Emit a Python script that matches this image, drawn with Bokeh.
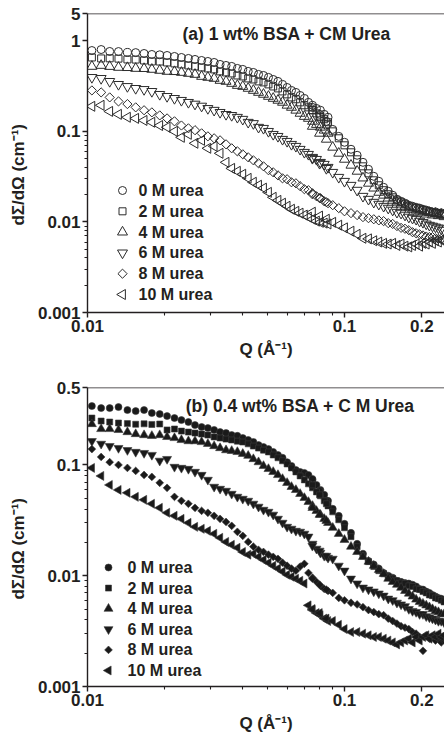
import math
from bokeh.plotting import figure
from bokeh.layouts import column
from bokeh.models import FixedTicker, Span, Label, Range1d, LinearScale, ColumnDataSource
from bokeh.core.properties import value
from bokeh.embed import file_html
from bokeh.resources import INLINE

# ---------------- data ----------------
Q_LOW = [0.0104, 0.0113, 0.0122, 0.0132, 0.0143, 0.0154, 0.0166, 0.0178, 0.0191, 0.0204,
         0.0218, 0.0232, 0.0247, 0.0262, 0.0278, 0.0294, 0.0311, 0.0328, 0.0346, 0.0364,
         0.0383, 0.0402, 0.0422, 0.0442, 0.0463, 0.0484, 0.0506, 0.0528, 0.0551, 0.0574,
         0.0598, 0.0622, 0.0647, 0.0672, 0.0698, 0.0724, 0.0751, 0.0778, 0.0806, 0.0834, 0.0863]
Q_HIGH = [0.075, 0.080, 0.085, 0.090, 0.095, 0.100, 0.106, 0.112, 0.118, 0.124,
          0.130, 0.136, 0.142, 0.148, 0.154, 0.160, 0.166, 0.172, 0.178, 0.184,
          0.190, 0.196, 0.202, 0.208, 0.214, 0.220, 0.226, 0.232, 0.238, 0.244]

LABELS = ["0 M urea", "2 M urea", "4 M urea", "6 M urea", "8 M urea", "10 M urea"]

# panel (a): 1 wt% BSA
A0_LOW = [0.78, 0.80, 0.762, 0.76, 0.743, 0.74, 0.724, 0.706, 0.70, 0.688, 0.671, 0.654, 0.638, 0.622,
          0.606, 0.591, 0.576, 0.548, 0.534, 0.521, 0.495, 0.483, 0.459, 0.447, 0.425, 0.414, 0.394,
          0.374, 0.356, 0.330, 0.305, 0.283, 0.269, 0.249, 0.231, 0.209, 0.194, 0.179, 0.171, 0.154, 0.143]
A0_HIGH = [0.184, 0.154, 0.129, 0.105, 0.088, 0.0757, 0.0634, 0.0544, 0.0455, 0.0381, 0.0319, 0.0281,
           0.0241, 0.0218, 0.0197, 0.0178, 0.0169, 0.0161, 0.0153, 0.0149, 0.0145, 0.0142, 0.0138,
           0.0135, 0.0131, 0.0127, 0.0129, 0.0124, 0.0126, 0.0121]
A2_LOW = [0.654, 0.638, 0.64, 0.635, 0.622, 0.62, 0.606, 0.591, 0.59, 0.576, 0.562, 0.548, 0.534, 0.521,
          0.508, 0.495, 0.483, 0.459, 0.447, 0.436, 0.414, 0.404, 0.384, 0.374, 0.356, 0.347, 0.330,
          0.313, 0.298, 0.276, 0.256, 0.237, 0.226, 0.209, 0.194, 0.184, 0.171, 0.158, 0.146, 0.136, 0.126]
A2_HIGH = [0.171, 0.143, 0.119, 0.100, 0.0838, 0.0701, 0.0587, 0.0491, 0.0411, 0.0344, 0.0288, 0.0254,
           0.0224, 0.0202, 0.0187, 0.0173, 0.0165, 0.0157, 0.0149, 0.0145, 0.0142, 0.0138, 0.0135,
           0.0131, 0.0131, 0.0128, 0.0125, 0.0125, 0.0122, 0.0122]
A4_LOW = [0.521, 0.534, 0.52, 0.508, 0.505, 0.495, 0.493, 0.483, 0.471, 0.459, 0.456, 0.447, 0.436, 0.425,
          0.404, 0.394, 0.384, 0.365, 0.356, 0.338, 0.321, 0.313, 0.298, 0.283, 0.269, 0.256, 0.243,
          0.231, 0.220, 0.209, 0.194, 0.184, 0.171, 0.158, 0.146, 0.139, 0.129, 0.119, 0.111, 0.103, 0.0951]
A4_HIGH = [0.1135, 0.0951, 0.0817, 0.0667, 0.0572, 0.0491, 0.0422, 0.0362, 0.0305, 0.0267, 0.0236, 0.0212,
           0.0197, 0.0183, 0.0173, 0.0165, 0.0157, 0.0149, 0.0145, 0.0138, 0.0135, 0.0131, 0.0128,
           0.0122, 0.0127, 0.0119, 0.0124, 0.0117, 0.0121, 0.0114]
A6_LOW = [0.394, 0.384, 0.356, 0.330, 0.313, 0.298, 0.290, 0.276, 0.256, 0.243, 0.231, 0.220, 0.209, 0.200,
          0.190, 0.179, 0.171, 0.162, 0.154, 0.150, 0.143, 0.136, 0.126, 0.122, 0.111, 0.108, 0.100,
          0.0927, 0.0881, 0.0817, 0.0776, 0.0719, 0.0684, 0.0634, 0.0587, 0.0558, 0.0517, 0.0491,
          0.0455, 0.0433, 0.0401]
A6_HIGH = [0.0504, 0.0444, 0.0390, 0.0353, 0.0311, 0.0281, 0.0254, 0.0224, 0.0192, 0.0178, 0.0165, 0.0157,
           0.0149, 0.0142, 0.0135, 0.0128, 0.0125, 0.0119, 0.0113, 0.0110, 0.0107, 0.0102, 0.0099,
           0.0095, 0.0092, 0.0090, 0.0088, 0.0086, 0.0084, 0.0081]
A8_LOW = [0.283, 0.269, 0.237, 0.214, 0.200, 0.184, 0.171, 0.162, 0.150, 0.139, 0.129, 0.116, 0.108, 0.103,
          0.0951, 0.0881, 0.0838, 0.0796, 0.0719, 0.0650, 0.0602, 0.0558, 0.0517, 0.0479, 0.0444, 0.0411,
          0.0372, 0.0353, 0.0327, 0.0303, 0.0296, 0.0274, 0.0267, 0.0248, 0.0230, 0.0224, 0.0207,
          0.0192, 0.0183, 0.0169, 0.0161]
A8_HIGH = [0.0202, 0.0183, 0.0165, 0.0153, 0.0142, 0.0131, 0.0125, 0.0119, 0.0113, 0.0110, 0.0107, 0.0104,
           0.0102, 0.0097, 0.0095, 0.0090, 0.0086, 0.0084, 0.0081, 0.0077, 0.0075, 0.0073, 0.0071,
           0.0069, 0.0068, 0.0068, 0.0066, 0.0065, 0.0065, 0.0063]
A10_LOW = [0.189, 0.194, 0.166, 0.154, 0.143, 0.139, 0.132, 0.126, 0.116, 0.111, 0.100, 0.0859, 0.0927,
           0.0738, 0.0796, 0.0650, 0.0684, 0.0572, 0.0455, 0.0390, 0.0362, 0.0336, 0.0303, 0.0274, 0.0254,
           0.0236, 0.0212, 0.0187, 0.0173, 0.0161, 0.0149, 0.0138, 0.0131, 0.0125, 0.0119, 0.0113,
           0.0107, 0.0102, 0.0099, 0.0097, 0.0095]
A10_HIGH = [0.0128, 0.0116, 0.0107, 0.0099, 0.0092, 0.0086, 0.0079, 0.0073, 0.0066, 0.0065, 0.0062, 0.0060,
            0.0058, 0.0057, 0.0058, 0.0055, 0.0057, 0.0054, 0.0053, 0.0055, 0.0057, 0.0054, 0.0058,
            0.0057, 0.0060, 0.0058, 0.0062, 0.0060, 0.0063, 0.0062]

# panel (b): 0.4 wt% BSA
B0_LOW = [0.340, 0.326, 0.326, 0.333, 0.313, 0.306, 0.313, 0.294, 0.288, 0.276, 0.265, 0.254, 0.244, 0.229,
          0.220, 0.215, 0.207, 0.198, 0.194, 0.186, 0.183, 0.175, 0.168, 0.161, 0.151, 0.145, 0.139,
          0.131, 0.123, 0.116, 0.106, 0.098, 0.090, 0.0865, 0.0847, 0.0812, 0.0733, 0.0660, 0.0595,
          0.0537, 0.0474]
B0_HIGH = [0.0748, 0.0583, 0.0474, 0.0402, 0.0347, 0.0294, 0.0244, 0.0194, 0.0158, 0.0136, 0.0126, 0.0116,
           0.0106, 0.0100, 0.0096, 0.0090, 0.0088, 0.0086, 0.0085, 0.0083, 0.0080, 0.0076, 0.0075,
           0.0072, 0.0070, 0.0067, 0.0065, 0.0063, 0.0062, 0.0060]
B2_LOW = [0.265, 0.249, 0.244, 0.239, 0.236, 0.233, 0.235, 0.232, 0.234, 0.207, 0.211, 0.202, 0.198, 0.194,
          0.190, 0.186, 0.179, 0.175, 0.171, 0.168, 0.164, 0.161, 0.155, 0.148, 0.142, 0.136, 0.131,
          0.123, 0.116, 0.109, 0.102, 0.094, 0.0865, 0.0796, 0.0733, 0.0675, 0.0621, 0.0571, 0.0526,
          0.0474, 0.0427]
B2_HIGH = [0.0660, 0.0537, 0.0446, 0.0377, 0.0320, 0.0271, 0.0225, 0.0183, 0.0151, 0.0134, 0.0121, 0.0111,
           0.0104, 0.0098, 0.0094, 0.0090, 0.0086, 0.0085, 0.0081, 0.0080, 0.0076, 0.0075, 0.0072,
           0.0070, 0.0067, 0.0066, 0.0063, 0.0062, 0.0060, 0.0058]
B4_LOW = [0.234, 0.211, 0.211, 0.207, 0.198, 0.190, 0.186, 0.183, 0.186, 0.179, 0.175, 0.168, 0.164, 0.164,
          0.161, 0.155, 0.148, 0.142, 0.136, 0.134, 0.131, 0.126, 0.121, 0.113, 0.106, 0.098, 0.092,
          0.0865, 0.0812, 0.0748, 0.0689, 0.0634, 0.0595, 0.0548, 0.0504, 0.0464, 0.0427, 0.0385,
          0.0355, 0.0326, 0.0300]
B4_HIGH = [0.0410, 0.0355, 0.0313, 0.0271, 0.0239, 0.0211, 0.0183, 0.0164, 0.0148, 0.0134, 0.0123, 0.0113,
           0.0104, 0.0094, 0.0088, 0.0083, 0.0078, 0.0073, 0.0069, 0.0065, 0.0061, 0.0058, 0.0056,
           0.0054, 0.0052, 0.0050, 0.0048, 0.0047, 0.0045, 0.0045]
B6_LOW = [0.164, 0.155, 0.148, 0.142, 0.136, 0.131, 0.128, 0.123, 0.109, 0.113, 0.096, 0.094, 0.092, 0.0865,
          0.0812, 0.0733, 0.0634, 0.0608, 0.0583, 0.0548, 0.0515, 0.0494, 0.0474, 0.0446, 0.0419,
          0.0393, 0.0377, 0.0355, 0.0326, 0.0300, 0.0276, 0.0265, 0.0254, 0.0249, 0.0239, 0.0225,
          0.0194, 0.0175, 0.0161, 0.0151, 0.0145]
B6_HIGH = [0.0186, 0.0168, 0.0151, 0.0142, 0.0123, 0.0111, 0.0094, 0.0085, 0.0078, 0.0075, 0.0072, 0.0069,
           0.0066, 0.0062, 0.0060, 0.0057, 0.0055, 0.0053, 0.0050, 0.0048, 0.0047, 0.0045, 0.0045,
           0.0043, 0.0042, 0.0041, 0.0040, 0.0039, 0.0039, 0.0038]
B8_LOW = [0.139, 0.118, 0.106, 0.100, 0.094, 0.0883, 0.0812, 0.0780, 0.0689, 0.0621, 0.0515, 0.0474, 0.0446,
          0.0410, 0.0385, 0.0370, 0.0347, 0.0326, 0.0306, 0.0282, 0.0249, 0.0229, 0.0202, 0.0183,
          0.0171, 0.0164, 0.0155, 0.0148, 0.0142, 0.0131, 0.0123, 0.0116, 0.0111, 0.0121, 0.0128,
          0.0106, 0.0096, 0.0088, 0.0081, 0.0076, 0.0073]
B8_HIGH = [0.0094, 0.0083, 0.0075, 0.0070, 0.0063, 0.0060, 0.0057, 0.0055, 0.0052, 0.0049, 0.0047, 0.0045,
           0.0044, 0.0041, 0.0039, 0.0037, 0.0035, 0.0034, 0.0033, 0.0031, 0.0030, 0.0028, 0.0021,
           0.0029, 0.0027, 0.0028, 0.0026, 0.0027, 0.0025, 0.0026]
B10_LOW = [0.094, 0.0796, 0.0660, 0.0595, 0.0560, 0.0515, 0.0484, 0.0446, 0.0410, 0.0370, 0.0347, 0.0326,
           0.0300, 0.0276, 0.0265, 0.0254, 0.0239, 0.0220, 0.0202, 0.0190, 0.0179, 0.0164, 0.0155,
           0.0158, 0.0148, 0.0139, 0.0131, 0.0123, 0.0116, 0.0109, 0.0102, 0.0098, 0.0094, 0.0090,
           0.0085, 0.0054, 0.0049, 0.0046, 0.0044, 0.0041, 0.0039]
B10_HIGH = [0.0050, 0.0046, 0.0041, 0.0039, 0.0036, 0.0033, 0.0031, 0.0031, 0.0030, 0.0029, 0.0028, 0.0028,
            0.0027, 0.0026, 0.0025, 0.0024, 0.0025, 0.0026, 0.0027, 0.0025, 0.0028, 0.0026, 0.0028,
            0.0029, 0.0027, 0.0029, 0.0028, 0.0030, 0.0028, 0.0029]

X_TICKS = [0.01, 0.1, 0.2]
X_TICK_LABELS = ["0.01", "0.1", "0.2"]
X_MINOR = [0.02, 0.03, 0.04, 0.05, 0.06, 0.07, 0.08, 0.09]
Y_MINOR = [0.002, 0.003, 0.004, 0.005, 0.006, 0.007, 0.008, 0.009,
           0.02, 0.03, 0.04, 0.05, 0.06, 0.07, 0.08, 0.09]
YA_TICKS = [0.001, 0.01, 0.1, 1, 2]
YA_TICK_LABELS = ["0.001", "0.01", "0.1", "1", "5"]
YB_TICKS = [0.001, 0.01, 0.1, 0.5]
YB_TICK_LABELS = ["0.001", "0.01", "0.1", "0.5"]

# ---------------- styling ----------------
FONT = "Liberation Sans"
INK = "#231f20"
X_RANGE = (0.01, 0.245)
W = 444
BORDER_LEFT = 87
FRAME_H = 299
NBSP = "\u00a0"

MARKERS = ["circle", "square", "triangle", "inverted_triangle", "square", "triangle"]
SIZES = [8, 7, 10, 10, 6.5, 10]
ANGLES = [0.0, 0.0, 0.0, 0.0, math.pi / 4, math.pi / 2]


def make_panel(height, b_top, y_range, yticks, ylabels, title, title_xy,
               series, filled, leg_x, leg_top, leg_pitch, leg_gap):
    p = figure(width=W, height=height, x_axis_type="log", y_axis_type="log",
               x_range=X_RANGE, y_range=y_range, output_backend="svg", toolbar_location=None,
               min_border_left=BORDER_LEFT, min_border_right=0, min_border_top=b_top,
               min_border_bottom=height - b_top - FRAME_H)
    p.outline_line_color = None
    p.grid.visible = False
    p.background_fill_color = "white"
    p.border_fill_color = "white"

    p.xaxis.ticker = FixedTicker(ticks=X_TICKS, minor_ticks=X_MINOR)
    p.xaxis.major_label_overrides = dict(zip(X_TICKS, X_TICK_LABELS))
    p.yaxis.ticker = FixedTicker(ticks=yticks, minor_ticks=Y_MINOR)
    p.yaxis.major_label_overrides = dict(zip(yticks, ylabels))
    p.xaxis.axis_label = "Q (Å\u207b\u00b9)"
    p.yaxis.axis_label = "dΣ/dΩ (cm\u207b\u00b9)" + NBSP * 5
    for ax in (p.xaxis, p.yaxis):
        ax.axis_line_color = INK
        ax.axis_line_width = 1.4
        ax.major_tick_line_color = INK
        ax.major_tick_line_width = 1.4
        ax.minor_tick_line_color = INK
        ax.minor_tick_line_width = 1.1
        ax.major_tick_out = 5
        ax.major_tick_in = 0
        ax.minor_tick_out = 3
        ax.minor_tick_in = 0
        ax.major_label_text_font = FONT
        ax.major_label_text_font_style = "bold"
        ax.major_label_text_font_size = "17px"
        ax.major_label_text_color = INK
        ax.major_label_standoff = 2
        ax.axis_label_text_font = FONT
        ax.axis_label_text_font_style = "bold"
        ax.axis_label_text_font_size = "17px"
        ax.axis_label_text_color = INK
    p.xaxis.axis_label_standoff = 5
    p.yaxis.axis_label_standoff = 7

    p.add_layout(Span(location=y_range[1], dimension="width", line_color=INK, line_width=1.4))

    if filled:
        style = dict(fill_color="#1a1a1a", line_color="#3a3a3a", line_width=0.6)
        sizes = [s - 1 for s in SIZES]
    else:
        style = dict(fill_alpha=0, line_color="#2b2b2b", line_width=1.0)
        sizes = SIZES

    for marker, size, angle, (low, high) in zip(MARKERS, sizes, ANGLES, series):
        p.scatter(Q_LOW + Q_HIGH, low + high, marker=marker, size=size, angle=angle, **style)

    # legend (keys drawn with the same markers, in a pixel space laid over the frame)
    p.extra_x_ranges = {"px": Range1d(0, W - BORDER_LEFT)}
    p.extra_y_ranges = {"px": Range1d(0, FRAME_H)}
    p.extra_x_scales = {"px": LinearScale()}
    p.extra_y_scales = {"px": LinearScale()}
    rows = [leg_top - i * leg_pitch for i in range(len(LABELS))]
    leg = ColumnDataSource(dict(x=[leg_x] * len(LABELS), tx=[leg_x + leg_gap] * len(LABELS),
                                y=rows, marker=MARKERS, size=sizes, angle=ANGLES, label=LABELS))
    p.scatter("x", "y", source=leg, marker="marker", size="size", angle="angle",
              x_range_name="px", y_range_name="px", **style)
    p.text("tx", "y", text="label", source=leg, x_range_name="px", y_range_name="px",
           text_font=value(FONT), text_font_style="bold", text_font_size="16px",
           text_color=INK, text_baseline="middle", text_align="left")

    p.add_layout(Label(x=title_xy[0], y=title_xy[1], text=title, text_font=FONT,
                       text_font_style="bold", text_font_size="17.5px", text_color=INK,
                       text_baseline="alphabetic", text_align="left"))
    return p


pa = make_panel(372, 13, (0.001, 2), YA_TICKS, YA_TICK_LABELS,
                "(a) 1 wt% BSA + CM Urea", (0.0234, 1.2),
                [(A0_LOW, A0_HIGH), (A2_LOW, A2_HIGH), (A4_LOW, A4_HIGH),
                 (A6_LOW, A6_HIGH), (A8_LOW, A8_HIGH), (A10_LOW, A10_HIGH)],
                False, 35, 122, 20.8, 16)
pb = make_panel(369, 15, (0.001, 0.5), YB_TICKS, YB_TICK_LABELS,
                "(b) 0.4 wt% BSA + C M Urea", (0.0241, 0.34),
                [(B0_LOW, B0_HIGH), (B2_LOW, B2_HIGH), (B4_LOW, B4_HIGH),
                 (B6_LOW, B6_HIGH), (B8_LOW, B8_HIGH), (B10_LOW, B10_HIGH)],
                True, 21, 119, 20.6, 19)

layout = column(pa, pb, spacing=0)
open("out.html", "w").write(file_html(layout, INLINE))
